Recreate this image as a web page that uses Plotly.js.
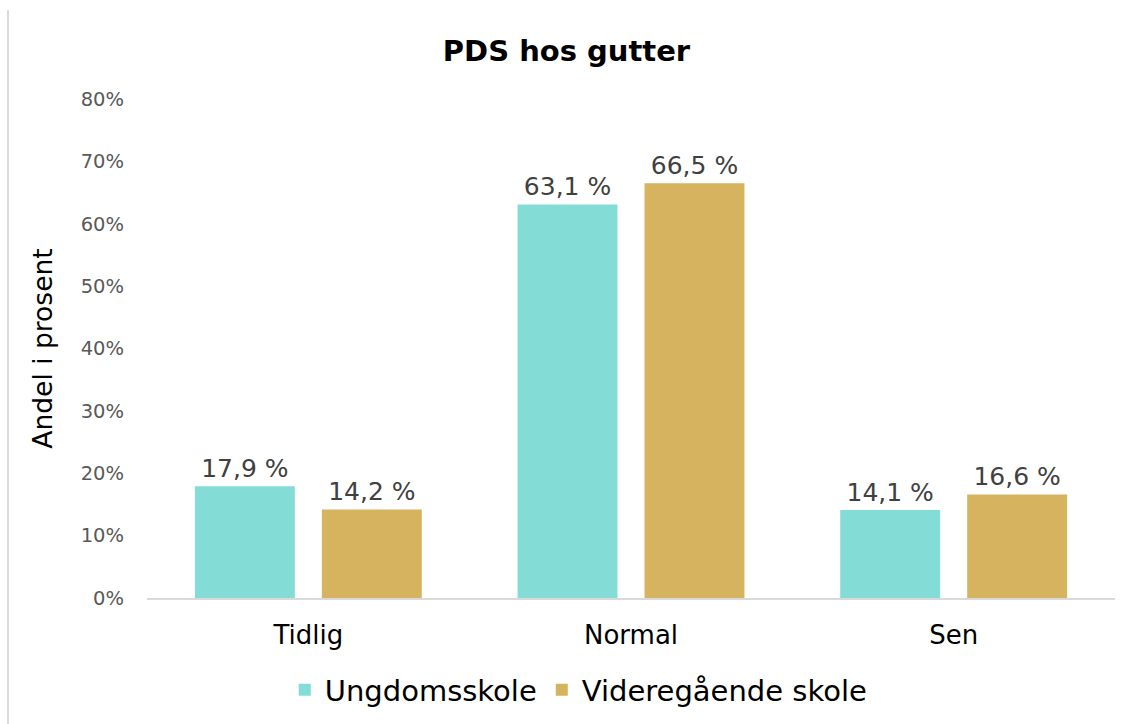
<!DOCTYPE html>
<html>
<head>
<meta charset="utf-8">
<script src="https://cdn.plot.ly/plotly-3.0.1.min.js"></script>
<style>html,body{margin:0;padding:0;background:#fff;}#chart{width:1133px;height:724px;}</style>
</head>
<body>
<div id="chart"></div>
<script>
const categories = ["Tidlig", "Normal", "Sen"];
const ungdomsskole = [17.9, 63.1, 14.1];
const videregaende = [14.2, 66.5, 16.6];
const seriesNames = ["Ungdomsskole", "Videregående skole"];
const yTicks = [0, 10, 20, 30, 40, 50, 60, 70, 80];

const fmt = v => v.toFixed(1).replace('.', ',') + ' %';
const font = "DejaVu Sans";

const traces = [
  {type: 'bar', name: seriesNames[0], x: categories, y: ungdomsskole,
   marker: {color: '#84DCD6'}, text: ungdomsskole.map(fmt), textposition: 'outside',
   textfont: {family: font, size: 25, color: '#404040'}, cliponaxis: false, hoverinfo: 'none'},
  {type: 'bar', name: seriesNames[1], x: categories, y: videregaende,
   marker: {color: '#D6B35E'}, text: videregaende.map(fmt), textposition: 'outside',
   textfont: {family: font, size: 25, color: '#404040'}, cliponaxis: false, hoverinfo: 'none'}
];

const layout = {
  width: 1133, height: 724,
  margin: {l: 147, r: 18, t: 99, b: 126, autoexpand: false},
  paper_bgcolor: '#fff', plot_bgcolor: '#fff',
  font: {family: font},
  title: {text: '<b>PDS hos gutter</b>', x: 0.5, xanchor: 'center', y: 0.93, yanchor: 'middle',
          font: {family: font, size: 29, color: '#000'}},
  barmode: 'group', bargap: 0.213, bargroupgap: 0.213,
  xaxis: {showline: true, linecolor: '#d9d9d9', linewidth: 2, ticks: '', showgrid: false,
          tickfont: {family: font, size: 26, color: '#000'}, ticklabelstandoff: 13},
  yaxis: {range: [0, 80], tickvals: yTicks, ticktext: yTicks.map(v => v + '%'),
          showgrid: false, zeroline: false, showline: false, ticks: '',
          tickfont: {family: font, size: 19.5, color: '#595959'}, ticklabelstandoff: 22,
          title: {text: 'Andel i prosent', font: {family: font, size: 26.5, color: '#000'}, standoff: 20}},
  legend: {orientation: 'h', x: 0.446, xanchor: 'center', y: -0.184, yanchor: 'middle',
           font: {family: font, size: 29, color: '#000'}, itemwidth: 30, tracegroupgap: 0},
  shapes: [{type: 'line', xref: 'paper', yref: 'paper', x0: -0.1436, x1: -0.1436, y0: 1.178, y1: -0.26,
            line: {color: '#d9d9d9', width: 2}}],
  showlegend: true
};

Plotly.newPlot('chart', traces, layout, {displayModeBar: false, staticPlot: true});
</script>
</body>
</html>
